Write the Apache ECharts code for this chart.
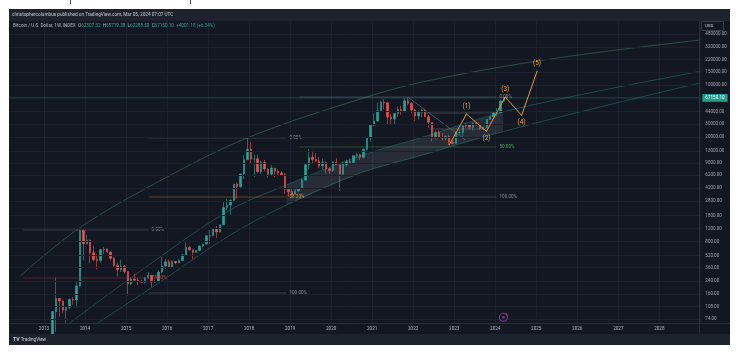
<!DOCTYPE html>
<html>
<head>
<meta charset="utf-8">
<script src="https://cdn.jsdelivr.net/npm/echarts@6/dist/echarts.min.js"></script>
<style>
html, body { margin: 0; padding: 0; background: #fff; }
#chart { width: 744px; height: 354px; }
</style>
</head>
<body>
<div id="chart"></div>
<script>
// monthly candles, Jan 2013 .. Mar 2024
var startYear = 2013;
var opens = [
  13.3, 20.4, 33.4, 93, 139, 129, 97, 106, 135, 133, 204, 1130,
  754, 830, 570, 460, 448, 630, 640, 585, 480, 387, 338, 378,
  320, 218, 254, 244, 236, 230, 263, 284, 230, 236, 314, 377,
  430, 368, 437, 416, 448, 532, 673, 624, 575, 609, 700, 745,
  963, 965, 1190, 1080, 1350, 2300, 2480, 2875, 4730, 4340, 6450, 10000,
  13800, 10200, 10300, 6900, 9250, 7500, 6400, 7730, 7030, 6630, 6320, 4020,
  3740, 3460, 3830, 4100, 5330, 8560, 10800, 10080, 9600, 8300, 9150, 7550,
  7200, 9350, 8550, 6420, 8630, 9450, 9140, 11350, 11650, 10780, 13800, 19700,
  29000, 33100, 45200, 58800, 57700, 37300, 35000, 41500, 47100, 43800, 61300, 57000,
  46300, 38500, 43200, 45500, 37700, 31800, 19900, 23300, 20000, 19400, 20500, 17200,
  16550, 23100, 23150, 28500, 29250, 27200, 30500, 29250, 25950, 26970, 34650, 37700,
  42300, 42600, 61200
];
var highs = [
  20.4, 33.4, 95, 266, 140, 130, 110, 140, 145, 230, 1163, 1163,
  1000, 860, 710, 550, 630, 680, 650, 600, 500, 420, 460, 390,
  320, 265, 300, 260, 248, 267, 315, 285, 245, 330, 500, 470,
  460, 450, 440, 470, 550, 780, 705, 625, 615, 720, 750, 975,
  1150, 1200, 1300, 1350, 2760, 3000, 2920, 4750, 5000, 6450, 11500, 19700,
  17200, 11800, 11700, 9750, 9950, 7750, 8500, 7760, 7400, 7000, 6580, 4230,
  4100, 4200, 4120, 5600, 9000, 13900, 13200, 12300, 10900, 10400, 9500, 7750,
  9550, 10500, 9200, 9450, 10050, 10400, 11450, 12450, 12050, 14100, 19900, 29300,
  41900, 58300, 61800, 64800, 59500, 41300, 42400, 50500, 52900, 67000, 69000, 59100,
  47900, 45800, 48200, 47400, 40000, 31900, 24700, 25200, 22800, 21000, 21500, 18400,
  23900, 25200, 29200, 31000, 29800, 31400, 31800, 30200, 27500, 35200, 38400, 44700,
  49000, 64000, 68719
];
var lows = [
  12.9, 19.1, 33.2, 50, 79, 88, 65, 100, 115, 105, 200, 450,
  740, 410, 440, 340, 420, 550, 560, 450, 360, 275, 315, 300,
  152, 210, 235, 210, 225, 220, 253, 199, 225, 235, 305, 345,
  355, 365, 400, 415, 440, 525, 605, 470, 570, 605, 680, 740,
  750, 940, 890, 1060, 1350, 2100, 1830, 2700, 2950, 4100, 5500, 10000,
  9000, 5900, 6600, 6450, 7000, 5750, 6100, 5880, 6100, 6200, 3500, 3150,
  3350, 3370, 3700, 4080, 5330, 7450, 9000, 9400, 7700, 7300, 6550, 6430,
  6850, 8450, 3850, 6150, 8100, 8900, 8950, 10550, 9900, 10400, 13200, 17600,
  28100, 32300, 45000, 47000, 30000, 28800, 29300, 37300, 39600, 43300, 53300, 42000,
  32900, 34300, 37200, 37700, 26700, 17600, 18800, 19600, 18200, 18200, 15500, 16300,
  16500, 21400, 19600, 26900, 25800, 24800, 28900, 25200, 24900, 26600, 34100, 37600,
  38500, 41900, 59000
];
var closes = [
  20.4, 33.4, 93, 139, 129, 97, 106, 135, 133, 204, 1130, 754,
  830, 570, 460, 448, 630, 640, 585, 480, 387, 338, 378, 320,
  218, 254, 244, 236, 230, 263, 284, 230, 236, 314, 377, 430,
  368, 437, 416, 448, 532, 673, 624, 575, 609, 700, 745, 963,
  965, 1190, 1080, 1350, 2300, 2480, 2875, 4730, 4340, 6450, 10000, 13800,
  10200, 10300, 6900, 9250, 7500, 6400, 7730, 7030, 6630, 6320, 4020, 3740,
  3460, 3830, 4100, 5330, 8560, 10800, 10080, 9600, 8300, 9150, 7550, 7200,
  9350, 8550, 6420, 8630, 9450, 9140, 11350, 11650, 10780, 13800, 19700, 29000,
  33100, 45200, 58800, 57700, 37300, 35000, 41500, 47100, 43800, 61300, 57000, 46300,
  38500, 43200, 45500, 37700, 31800, 19900, 23300, 20000, 19400, 20500, 17200, 16550,
  23100, 23150, 28500, 29250, 27200, 30500, 29250, 25950, 26970, 34650, 37700, 42300,
  42600, 61200, 67150.10
];

var priceTicks = [74, 108, 160, 240, 360, 520, 800, 1200, 1800, 2800, 4200, 6200, 9000,
  13000, 20000, 30000, 44000, 100000, 150000, 220000, 320000, 480000];
var lastPrice = 67150.10;

// drawings, [decimal year, price]
var upperCurve = [[2012.42, 279], [2013.865, 1222], [2015.79, 5090], [2017.95, 19540],
  [2020.71, 65000], [2022.33, 113000], [2025.52, 230000], [2029, 400000]];
var channelTop = [[2013.62, 65], [2015.79, 484], [2017.54, 2128], [2018.91, 4590],
  [2020.71, 11220], [2022.3, 20600], [2024.19, 43500], [2026.59, 84400], [2029, 152600]];
var channelBottom = [[2014.3, 65], [2015.79, 224], [2017.54, 984], [2018.91, 2480],
  [2020.71, 6650], [2022.3, 11860], [2023.04, 15740], [2024.19, 23800], [2026.59, 51400], [2029, 106400]];
var bandSpan = [2018.91, 2024.19];

var fib1Span = [2012.49, 2015.55];
var fib1Prices = [1148, 262];
var fib1Names = ['0.00%', '78.60%'];
var fib2Span = [2015.55, 2018.91];
var fib2Prices = [19540, 3174, 165];
var fib2Names = ['0.00%', '38.20%', '100.00%'];
var fib3Span = [2019.23, 2024.03];
var fib3Prices = [69100, 14810, 3174];
var fib3Names = ['0.00%', '50.00%', '100.00%'];

var rangePrices = [42200, 25780];
var rangeSpans = [[2022.28, 2024.03], [2022.4, 2023.79]];
var trendLine = [[2021.877, 68400], [2023.264, 18540]];

var waveDates = [2022.88, 2023.30, 2023.786, 2024.243, 2024.642, 2025.02];
var wavePrices = [15890, 40900, 24000, 69100, 39300, 152500];
var waveNames = ['', '(1)', '(2)', '(3)', '(4)', '(5)'];

var eventPoint = [2024.2, 78];

var fibColors = {
  '0.00%': 'rgba(120,123,134,0.55)',
  '38.20%': 'rgba(210,140,45,0.55)',
  '50.00%': 'rgba(76,175,80,0.55)',
  '78.60%': 'rgba(200,55,65,0.55)',
  '100.00%': 'rgba(120,123,134,0.55)'
};
var fibLabelColors = {
  '0.00%': '#8a8d96',
  '38.20%': '#e59a30',
  '50.00%': '#4caf50',
  '78.60%': '#d8424c',
  '100.00%': '#8a8d96'
};

var font = 'Roboto, "Liberation Sans", sans-serif';

function buildCandles() {
  var d = [];
  for (var i = 0; i < closes.length; i++) {
    d.push([startYear + (i + 0.5) / 12, opens[i], closes[i], lows[i], highs[i]]);
  }
  return d;
}

function fibSeries(span, prices, names) {
  var out = [];
  for (var i = 0; i < prices.length; i++) {
    out.push({
      type: 'line',
      z: 4,
      silent: true,
      symbol: 'none',
      data: [[span[0], prices[i]], [span[1], prices[i]]],
      lineStyle: { color: fibColors[names[i]], width: 0.7 },
      endLabel: {
        show: true,
        formatter: names[i],
        color: fibLabelColors[names[i]],
        fontSize: 4.6,
        fontFamily: font,
        distance: 3
      }
    });
  }
  return out;
}

function plainLine(points, color, width, z) {
  return {
    type: 'line',
    z: z || 4,
    silent: true,
    symbol: 'none',
    smooth: 0.35,
    data: points,
    lineStyle: { color: color, width: width }
  };
}

var h = echarts.init(document.getElementById('chart'));

var waveData = [];
for (var i = 0; i < waveDates.length; i++) {
  var up = (i % 2 === 1);
  waveData.push({
    value: [waveDates[i], wavePrices[i]],
    label: {
      show: i > 0,
      position: up ? 'top' : 'bottom',
      distance: 4,
      formatter: waveNames[i]
    }
  });
}

var series = [];

// price grid lines + last price line with tag
series.push({
  type: 'line',
  z: 1,
  silent: true,
  symbol: 'none',
  data: [[2012, lastPrice], [2029, lastPrice]],
  lineStyle: { color: 'rgba(38,166,154,0.45)', width: 0.8 },
  endLabel: {
    show: true,
    formatter: lastPrice.toFixed(2),
    backgroundColor: '#1f9e8f',
    color: '#ffffff',
    fontSize: 4.6,
    fontFamily: font,
    padding: [1.6, 3, 1.2, 3],
    distance: 2
  },
  markLine: {
    silent: true,
    symbol: ['none', 'none'],
    lineStyle: { color: '#1c202d', width: 1, type: 'solid' },
    label: {
      position: 'end',
      distance: 5,
      color: '#a3a6af',
      fontSize: 4.5,
      fontFamily: font,
      formatter: function (p) { return Number(p.value).toFixed(2); }
    },
    data: priceTicks.map(function (v) { return { yAxis: v }; })
  }
});

// shaded channel band
series.push({
  type: 'custom',
  z: 2,
  silent: true,
  data: [[bandSpan[0], channelBottom[3][1]]],
  renderItem: function (params, api) {
    var pts = [];
    channelTop.forEach(function (p) {
      if (p[0] >= bandSpan[0] && p[0] <= bandSpan[1]) pts.push(api.coord(p));
    });
    channelBottom.slice().reverse().forEach(function (p) {
      if (p[0] >= bandSpan[0] && p[0] <= bandSpan[1]) pts.push(api.coord(p));
    });
    return {
      type: 'polygon',
      shape: { points: pts },
      style: { fill: 'rgba(190,195,210,0.12)', stroke: 'none' }
    };
  }
});

series.push(plainLine(upperCurve, 'rgba(76,140,100,0.6)', 0.8, 2));
series.push(plainLine(channelTop, 'rgba(45,125,115,0.65)', 0.8, 2));
series.push(plainLine(channelBottom, 'rgba(45,125,115,0.65)', 0.8, 2));

series.push({
  type: 'candlestick',
  z: 3,
  barWidth: 1.9,
  data: buildCandles(),
  itemStyle: {
    color: '#26a69a',
    color0: '#ef5350',
    borderColor: '#26a69a',
    borderColor0: '#ef5350',
    borderWidth: 0.6
  }
});

series = series.concat(fibSeries(fib1Span, fib1Prices, fib1Names));
series = series.concat(fibSeries(fib2Span, fib2Prices, fib2Names));
series = series.concat(fibSeries(fib3Span, fib3Prices, fib3Names));

for (var r = 0; r < rangePrices.length; r++) {
  series.push({
    type: 'line', z: 4, silent: true, symbol: 'none',
    data: [[rangeSpans[r][0], rangePrices[r]], [rangeSpans[r][1], rangePrices[r]]],
    lineStyle: { color: 'rgba(120,123,134,0.6)', width: 0.7 }
  });
}
series.push({
  type: 'line', z: 4, silent: true, symbol: 'none',
  data: trendLine,
  lineStyle: { color: 'rgba(140,143,152,0.7)', width: 0.7 }
});

// elliott wave
series.push({
  type: 'line',
  z: 5,
  silent: true,
  symbol: 'circle',
  symbolSize: 1,
  data: waveData,
  itemStyle: { color: '#e39a35' },
  lineStyle: { color: '#e39a35', width: 1 },
  label: { color: '#f2a93b', fontSize: 6.4, fontFamily: font }
});

// event marker
series.push({
  type: 'scatter', z: 6, silent: true,
  data: [eventPoint],
  symbol: 'circle', symbolSize: 8,
  itemStyle: { color: 'rgba(0,0,0,0)', borderColor: '#9c3fc0', borderWidth: 1.1 }
});
series.push({
  type: 'scatter', z: 6, silent: true,
  data: [eventPoint],
  symbol: 'circle', symbolSize: 2.6,
  itemStyle: { color: '#9c3fc0' }
});
series.push({
  type: 'scatter', z: 7, silent: true,
  data: [eventPoint],
  symbol: 'circle', symbolSize: 2,
  symbolOffset: [3, -3],
  itemStyle: { color: '#f23645' }
});

var option = {
  backgroundColor: '#131722',
  animation: false,
  textStyle: { fontFamily: font },
  grid: { left: -7.65, right: 43.65, top: 21, bottom: 31 },
  xAxis: {
    type: 'value',
    min: 2012,
    max: 2029,
    interval: 1,
    axisLine: { show: true, lineStyle: { color: '#2a2e39' } },
    axisTick: { show: false },
    axisLabel: {
      color: '#b2b5be',
      fontSize: 4.6,
      margin: 3,
      formatter: function (v) { return (v === 2012 || v === 2029) ? '' : String(v); }
    },
    splitLine: { show: true, lineStyle: { color: '#1c202d', width: 1 } }
  },
  yAxis: {
    type: 'log',
    logBase: 10,
    min: 65.4,
    max: 718000,
    axisLine: { show: false },
    axisTick: { show: false },
    axisLabel: { show: false },
    splitLine: { show: false }
  },
  graphic: [
    { type: 'rect', z: 100, shape: { x: 9, y: 9, width: 721, height: 12 }, style: { fill: '#1e222d' } },
    { type: 'text', z: 101, x: 12, y: 15, style: {
        text: 'christophercolumbus published on TradingView.com, Mar 05, 2024 07:07 UTC',
        fill: '#c3c6ce', fontSize: 4.7, fontFamily: font, verticalAlign: 'middle' } },
    { type: 'text', z: 101, x: 13, y: 25.5, style: {
        text: '{g|Bitcoin / U.S. Dollar, 1W, INDEX  O}{v|62307.52}{g|  H}{v|68719.38}{g|  L}{v|62288.50}{g|  C}{v|67150.10}{v|  +4001.18 (+6.34%)}',
        fontSize: 4.6, fontFamily: font, verticalAlign: 'middle',
        rich: {
          g: { fill: '#b2b5be', fontSize: 4.6, fontFamily: font },
          v: { fill: '#26a69a', fontSize: 4.6, fontFamily: font }
        } } },
    { type: 'rect', z: 100, shape: { x: 9, y: 334, width: 721, height: 11 }, style: { fill: '#1e222d' } },
    { type: 'text', z: 101, x: 13, y: 340, style: {
        text: '{b|TV} TradingView', fill: '#d1d4dc', fontSize: 4.6, fontFamily: font, verticalAlign: 'middle',
        rich: { b: { fill: '#d1d4dc', fontSize: 5.2, fontWeight: 'bold', fontFamily: font } } } },
    { type: 'line', z: 100, shape: { x1: 699.5, y1: 21, x2: 699.5, y2: 334 }, style: { stroke: '#2a2e39', lineWidth: 1 } },
    { type: 'line', z: 100, shape: { x1: 700, y1: 323.5, x2: 730, y2: 323.5 }, style: { stroke: '#2a2e39', lineWidth: 1 } },
    { type: 'rect', z: 101, shape: { x: 701.5, y: 21.5, width: 22, height: 9, r: 1 }, style: { fill: '#131722', stroke: '#434651', lineWidth: 0.8 } },
    { type: 'text', z: 102, x: 705, y: 26, style: { text: 'USD', fill: '#d1d4dc', fontSize: 4.4, fontFamily: font, verticalAlign: 'middle' } },
    // white page margins around the screenshot
    { type: 'rect', z: 110, shape: { x: 0, y: 0, width: 744, height: 9 }, style: { fill: '#ffffff' } },
    { type: 'rect', z: 110, shape: { x: 0, y: 0, width: 9, height: 354 }, style: { fill: '#ffffff' } },
    { type: 'rect', z: 110, shape: { x: 730, y: 0, width: 14, height: 354 }, style: { fill: '#ffffff' } },
    { type: 'rect', z: 110, shape: { x: 0, y: 345, width: 744, height: 9 }, style: { fill: '#ffffff' } },
    { type: 'line', z: 111, shape: { x1: 70.5, y1: 0, x2: 70.5, y2: 4 }, style: { stroke: '#444', lineWidth: 1 } },
    { type: 'line', z: 111, shape: { x1: 190.5, y1: 0, x2: 190.5, y2: 4 }, style: { stroke: '#444', lineWidth: 1 } }
  ],
  series: series
};

h.setOption(option);
window.addEventListener('resize', function () {
  h.resize();
});
</script>
</body>
</html>
